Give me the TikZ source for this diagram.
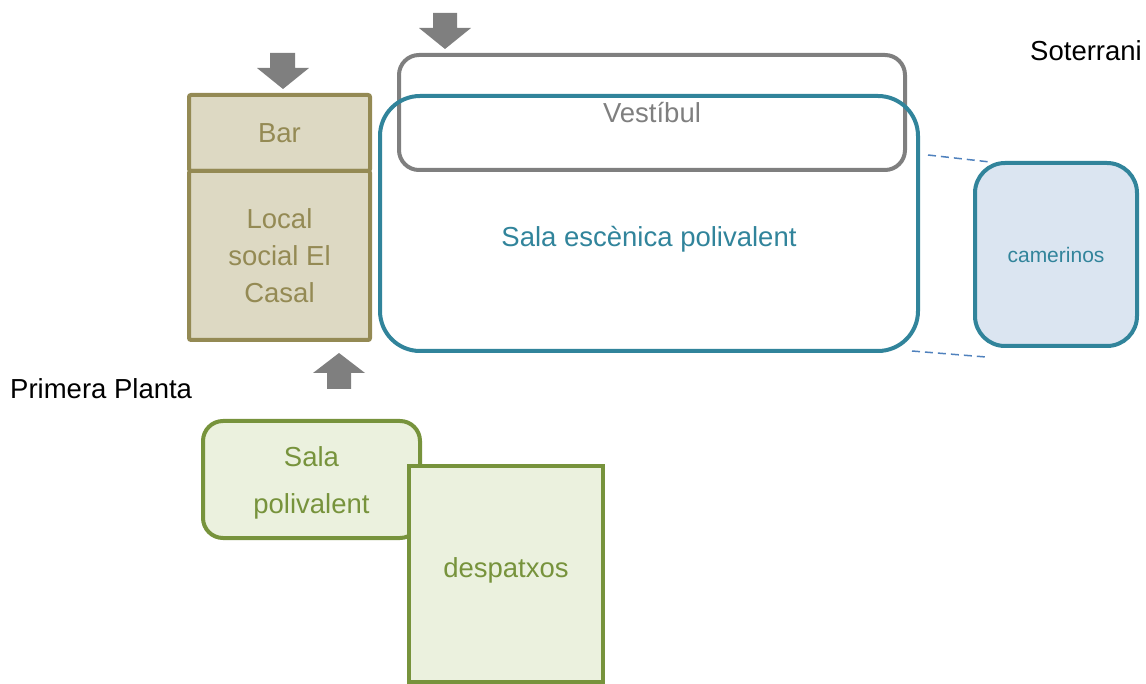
\documentclass[tikz,border=0pt]{standalone}
\usepackage{fontspec}
\setmainfont{Liberation Sans}
\usetikzlibrary{positioning}

\definecolor{barline}{HTML}{948A54}
\definecolor{barfill}{HTML}{DDD9C3}
\definecolor{vestline}{HTML}{7F7F7F}
\definecolor{escline}{HTML}{31849B}
\definecolor{camfill}{HTML}{DBE5F1}
\definecolor{polline}{HTML}{77933C}
\definecolor{polfill}{HTML}{EBF1DE}
\definecolor{dashline}{HTML}{4F81BD}

\begin{document}
\begin{tikzpicture}[x=1pt,y=-1pt,
  font=\fontsize{27.5}{33}\selectfont,
  box/.style={draw, line width=4pt, inner sep=0pt, align=center},
  bar/.style={box, draw=barline, fill=barfill, text=barline, rounded corners=2pt},
  pol/.style={box, draw=polline, fill=polfill, text=polline},
  link/.style={draw=dashline, line width=1.5pt, dash pattern=on 8pt off 5pt}]
\useasboundingbox (0,0) rectangle (1146,684);

% entrades
\fill[vestline] (270,53) -- (295,53) -- (295,68) -- (309,68) -- (283,89) -- (257,68) -- (270,68) -- cycle;
\fill[vestline] (433,13) -- (457,13) -- (457,28) -- (471,28) -- (445,49) -- (419,28) -- (433,28) -- cycle;
\fill[vestline] (327,389) -- (351,389) -- (351,373) -- (365,373) -- (339,353) -- (313,373) -- (327,373) -- cycle;

% soterrani
\node[bar, minimum width=181, minimum height=76] (bar) at (279.5,133) {Bar};
\node[bar, minimum width=181, minimum height=169] (local) at (279.5,255.5)
  {Local\\[4pt]social El\\[4pt]Casal};

\node[box, draw=vestline, text=vestline, rounded corners=20pt,
  minimum width=506, minimum height=115] (vest) at (652,112.5) {Vest\'ibul};
\node[box, draw=escline, rounded corners=40pt,
  minimum width=538, minimum height=255,
  label={[text=escline, yshift=-16pt]center:Sala esc\`enica polivalent}] (esc) at (649,223.5) {};
\node[box, draw=escline, fill=camfill, text=escline, rounded corners=30pt,
  minimum width=162, minimum height=183, font=\fontsize{21}{25}\selectfont] (cam) at (1056,254.5) {camerinos};

\coordinate (d1) at (928,155);
\coordinate (d2) at (990,162);
\coordinate (d3) at (912,351);
\coordinate (d4) at (986,357);
\draw[link] (d1) -- (d2);
\draw[link] (d3) -- (d4);

\node[anchor=east, inner sep=0pt] (sot) at (1142,51) {Soterrani};

% primera planta
\node[anchor=west, inner sep=0pt] (pp) at (10,389) {Primera Planta};

\node[pol, rounded corners=20pt, minimum width=217, minimum height=117,
  label={[text=polline, align=center, yshift=-3.5pt]center:Sala\\[14pt]polivalent}] (salapol) at (311.5,479.5) {};
\node[pol, minimum width=194, minimum height=216,
  label={[text=polline, yshift=4pt]center:despatxos}] (desp) at (506,574) {};

\end{tikzpicture}
\end{document}
